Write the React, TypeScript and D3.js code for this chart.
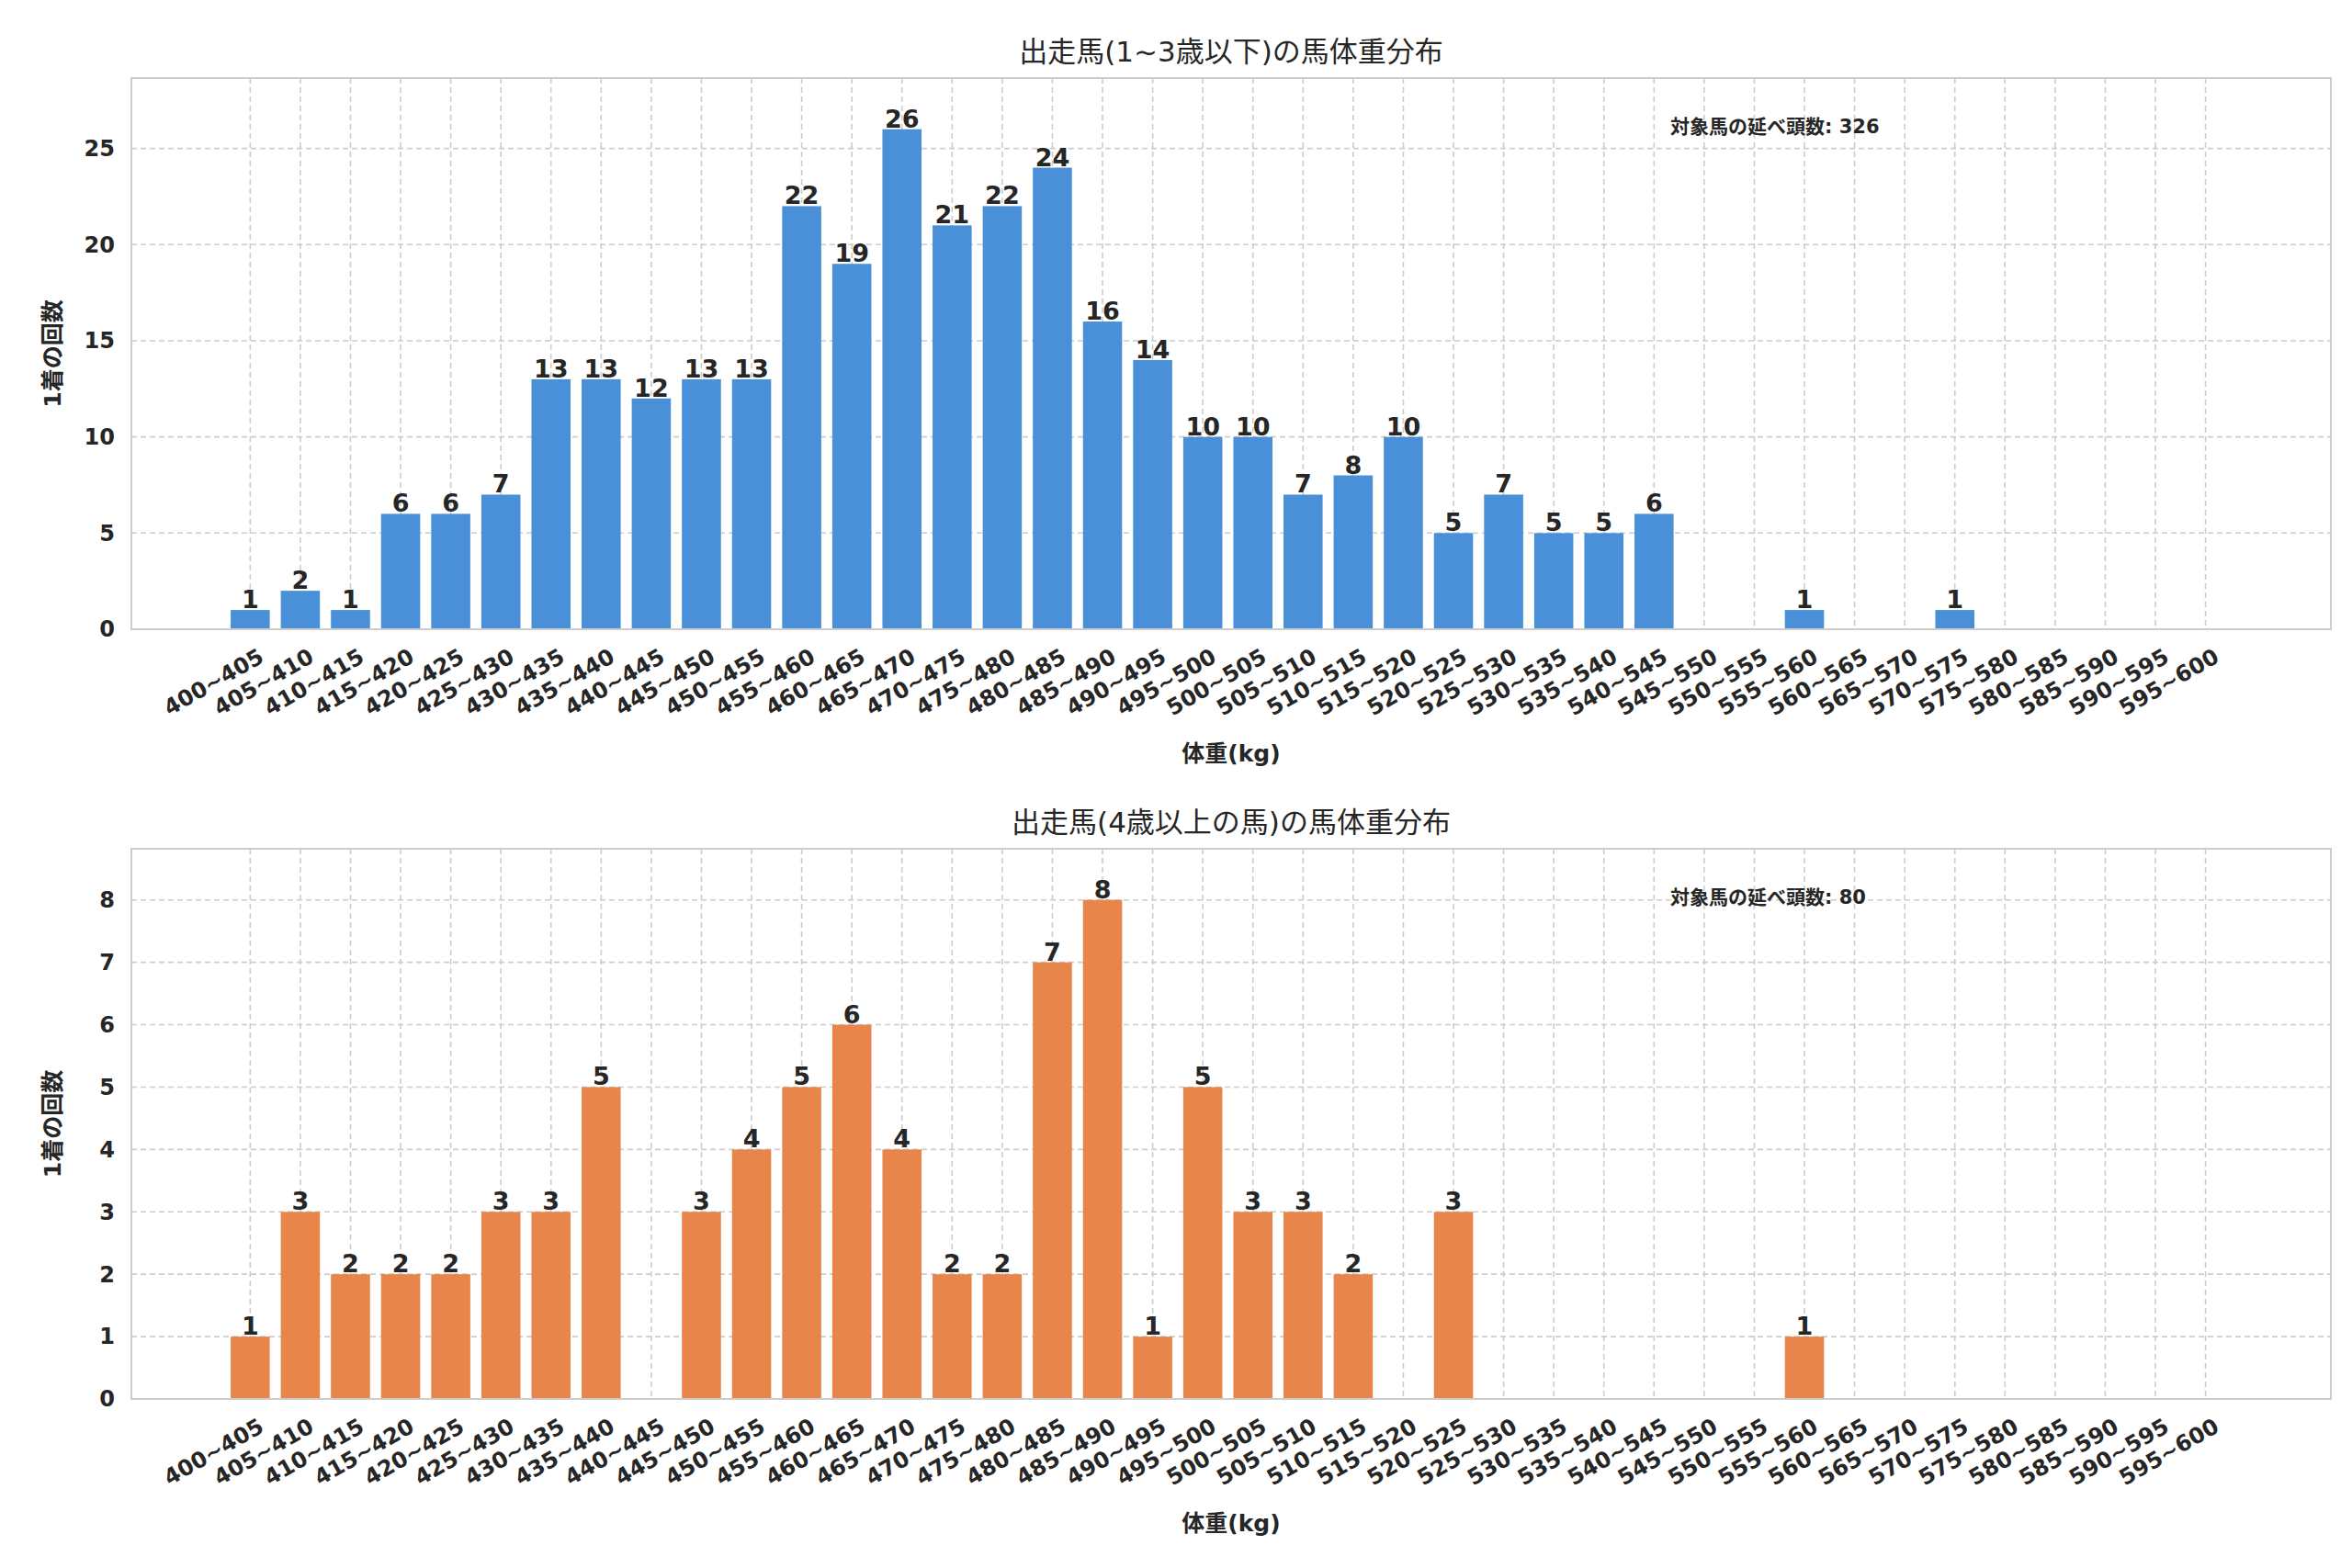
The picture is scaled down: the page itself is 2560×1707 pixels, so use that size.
import * as d3 from "d3";

const bins = d3.range(40).map((i) => `${400 + i * 5}~${405 + i * 5}`);
const youngCounts = [1, 2, 1, 6, 6, 7, 13, 13, 12, 13, 13, 22, 19, 26, 21, 22, 24, 16, 14, 10, 10, 7, 8, 10, 5, 7, 5, 5, 6, 0, 0, 1, 0, 0, 1, 0, 0, 0, 0, 0];
const olderCounts = [1, 3, 2, 2, 2, 3, 3, 5, 0, 3, 4, 5, 6, 4, 2, 2, 7, 8, 1, 5, 3, 3, 2, 0, 3, 0, 0, 0, 0, 0, 0, 1, 0, 0, 0, 0, 0, 0, 0, 0];
const yTicksTop = [0, 5, 10, 15, 20, 25];
const yTicksBottom = [0, 1, 2, 3, 4, 5, 6, 7, 8];

const FONT = "'DejaVu Sans', 'Noto Sans CJK JP', sans-serif";
const INK = "#262626";

function Panel({
  top, bottom, yMax, yTicks, values, color, title, total,
}: {
  top: number; bottom: number; yMax: number; yTicks: number[]; values: number[];
  color: string; title: string; total: number;
}) {
  const left = 135, right = 2529;
  const x = d3.scaleLinear().domain([-2.37, 41.5]).range([left, right]);
  const y = d3.scaleLinear().domain([0, yMax]).range([bottom, top]);
  const bw = x(0.78) - x(0);
  return (
    <g fontFamily={FONT} fill={INK}>
      <text x={(left + right) / 2} y={top - 18} textAnchor="middle" fontSize={31}>{title}</text>
      {bins.map((_, i) => (
        <line key={i} x1={x(i)} x2={x(i)} y1={top} y2={bottom} stroke="#cccccc" strokeWidth={1.6} strokeDasharray="6 4" />
      ))}
      {yTicks.map((t) => (
        <g key={t}>
          <line x1={left} x2={right} y1={y(t)} y2={y(t)} stroke="#cccccc" strokeWidth={1.6} strokeDasharray="6 4" />
          <text x={left - 18} y={y(t)} dy="0.35em" textAnchor="end" fontSize={24} fontWeight="bold">{t}</text>
        </g>
      ))}
      {values.map((v, i) => v > 0 && (
        <g key={i}>
          <rect x={x(i) - bw / 2} y={y(v)} width={bw} height={y(0) - y(v)} fill={color} />
          <text x={x(i)} y={y(v) - 2} textAnchor="middle" fontSize={27} fontWeight="bold">{v}</text>
        </g>
      ))}
      <rect x={left} y={top} width={right - left} height={bottom - top} fill="none" stroke="#cccccc" strokeWidth={2} />
      {bins.map((b, i) => (
        <text key={b} transform={`translate(${x(i) + 8},${bottom + 20}) rotate(-30)`} textAnchor="end" dy="0.7em" fontSize={24} fontWeight="bold">{b}</text>
      ))}
      <text x={(left + right) / 2} y={bottom + 144} textAnchor="middle" fontSize={25} fontWeight="bold">体重(kg)</text>
      <text transform={`translate(58,${(top + bottom) / 2}) rotate(-90)`} textAnchor="middle" fontSize={25} fontWeight="bold">1着の回数</text>
      <text x={1810} y={top + 60} fontSize={21} fontWeight="bold">対象馬の延べ頭数: {total}</text>
    </g>
  );
}

export default function App() {
  return (
    <svg width={2560} height={1707} style={{ display: "block", background: "#fff" }}>
      <Panel top={77} bottom={677} yMax={28.66} yTicks={yTicksTop} values={youngCounts} color="#4a90d9"
        title="出走馬(1~3歳以下)の馬体重分布" total={326} />
      <Panel top={916} bottom={1515} yMax={8.82} yTicks={yTicksBottom} values={olderCounts} color="#e8854a"
        title="出走馬(4歳以上の馬)の馬体重分布" total={80} />
    </svg>
  );
}
